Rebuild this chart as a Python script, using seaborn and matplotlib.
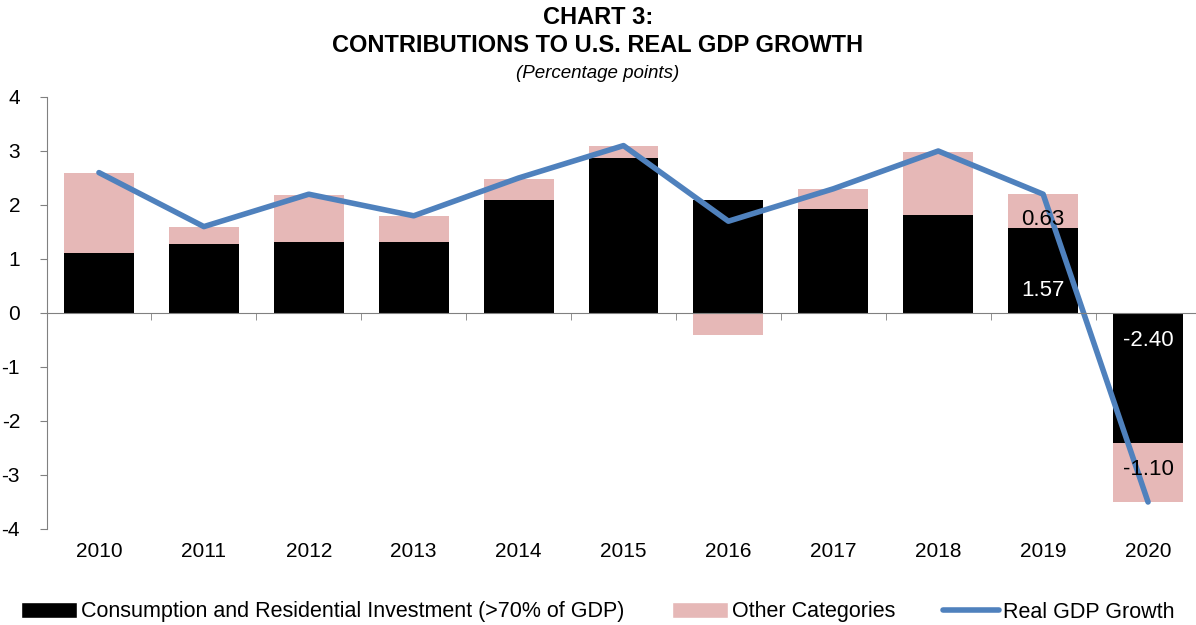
import seaborn as sns
import pandas as pd
import numpy as np
import matplotlib.pyplot as plt
from matplotlib.patches import Patch
from matplotlib.lines import Line2D

years = ['2010', '2011', '2012', '2013', '2014', '2015', '2016', '2017', '2018', '2019', '2020']
consumption = [1.11, 1.27, 1.32, 1.32, 2.10, 2.87, 2.09, 1.93, 1.82, 1.57, -2.40]
other = [1.48, 0.32, 0.87, 0.47, 0.39, 0.22, -0.41, 0.36, 1.17, 0.63, -1.10]
gdp_growth = [2.6, 1.6, 2.2, 1.8, 2.5, 3.1, 1.7, 2.3, 3.0, 2.2, -3.5]

BLACK = '#000000'
PINK = '#E6B8B7'
BLUE = '#4F81BD'
GREY = '#808080'

sns.set_style('white')
plt.rcParams['font.family'] = ['Liberation Sans', 'DejaVu Sans']
plt.rcParams['axes.unicode_minus'] = False
plt.rcParams['text.color'] = 'black'
plt.rcParams['xtick.color'] = 'black'
plt.rcParams['ytick.color'] = 'black'

cons = np.array(consumption)
oth = np.array(other)
# stack "other" on top of consumption when same sign, else from zero
base = np.where(np.sign(oth) == np.sign(cons), cons, 0.0)
df = pd.DataFrame({'Year': years, 'Consumption': cons,
                   'Stack': base + oth, 'GDP': gdp_growth})

fig = plt.figure(figsize=(11.96, 6.25), dpi=100)
ax = fig.add_axes([46.5 / 1196, 1 - 529 / 625, 1154 / 1196, 432 / 625])

sns.barplot(data=df, x='Year', y='Stack', color=PINK, width=0.667,
            saturation=1, ax=ax, zorder=2, edgecolor='none', linewidth=0)
sns.barplot(data=df, x='Year', y='Consumption', color=BLACK, width=0.667,
            saturation=1, ax=ax, zorder=3, edgecolor='none', linewidth=0)
sns.lineplot(x=np.arange(len(years)), y=df['GDP'], color=BLUE, linewidth=4,
             ax=ax, zorder=4, solid_capstyle='round')

ax.set_xlim(-0.5, len(years) - 0.5)
ax.set_ylim(-4, 4)
ax.set_yticks(range(-4, 5))
ax.set_xlabel('')
ax.set_ylabel('')

for s in ['top', 'right']:
    ax.spines[s].set_visible(False)
ax.spines['left'].set_color(GREY)
ax.spines['bottom'].set_color(GREY)
ax.spines['bottom'].set_position(('data', 0))
ax.spines['bottom'].set_zorder(5)

ax.tick_params(axis='y', left=True, direction='out', length=5, color=GREY,
               labelsize=15, pad=14)
ax.set_xticks(np.arange(-0.5, len(years), 1.0), minor=True)
ax.tick_params(axis='x', which='minor', bottom=True, direction='out', length=5, color=GREY)
ax.tick_params(axis='x', which='major', bottom=True, length=0, labelsize=15, pad=165)

# data labels for 2019 and 2020
i19, i20 = years.index('2019'), years.index('2020')
ax.text(i19, 0.41, f'{consumption[i19]:.2f}', color='white', ha='center', va='center', fontsize=16, zorder=6)
ax.text(i19, consumption[i19] + 0.17, f'{other[i19]:.2f}', color='black', ha='center', va='center', fontsize=16, zorder=6)
ax.text(i20, -0.5, f'{consumption[i20]:.2f}', color='white', ha='center', va='center', fontsize=16, zorder=6)
ax.text(i20, consumption[i20] - 0.5, f'{other[i20]:.2f}', color='black', ha='center', va='center', fontsize=16, zorder=6)

fig.text(0.5, 1 - 18 / 625, 'CHART 3:', ha='center', va='center', fontsize=17, fontweight='bold')
fig.text(0.5, 1 - 46 / 625, 'CONTRIBUTIONS TO U.S. REAL GDP GROWTH', ha='center', va='center',
         fontsize=17, fontweight='bold')
fig.text(0.5, 1 - 73 / 625, '(Percentage points)', ha='center', va='center', fontsize=13.5, style='italic')

handles = [Patch(facecolor=BLACK), Patch(facecolor=PINK), Line2D([0], [0], color=BLUE, linewidth=4)]
labels = ['Consumption and Residential Investment (>70% of GDP)', 'Other Categories', 'Real GDP Growth']
fig.legend(handles, labels, loc='center', bbox_to_anchor=(0.5, 1 - 612 / 625), ncol=3,
           frameon=False, fontsize=15.5, handlelength=2.6, handleheight=0.7,
           handletextpad=0.2, columnspacing=2.2)

fig.savefig('out.png', dpi=100)
